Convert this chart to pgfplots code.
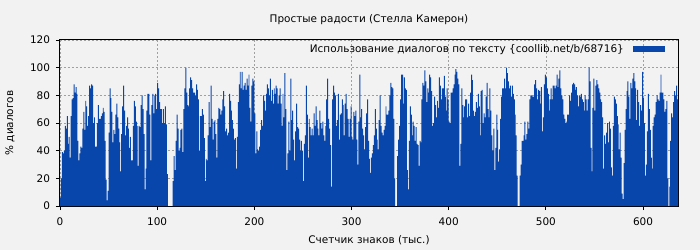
\documentclass[border=0pt]{standalone}
\usepackage{pgfplots}
\usepackage{pgfplotstable}
\pgfplotsset{compat=1.18}
\usepackage{fontspec}
\setmainfont{DejaVu Sans}
\definecolor{barblue}{RGB}{8,70,172}
\definecolor{bg}{RGB}{242,242,242}
\definecolor{gridc}{RGB}{160,160,160}
\pgfplotstableread[row sep=\\, header=false]{
6\\20\\39\\38\\40\\58\\56\\65\\45\\50\\35\\65\\77\\78\\88\\82\\86\\81\\47\\33\\38\\43\\42\\56\\68\\55\\76\\72\\58\\65\\87\\85\\88\\87\\60\\64\\43\\43\\60\\73\\63\\63\\65\\67\\71\\68\\47\\19\\4\\11\\53\\85\\78\\68\\46\\55\\52\\66\\74\\64\\56\\46\\25\\52\\72\\87\\69\\51\\58\\64\\56\\42\\50\\33\\33\\58\\76\\72\\61\\58\\29\\58\\57\\73\\80\\70\\52\\12\\27\\69\\81\\81\\66\\33\\73\\81\\67\\80\\81\\70\\89\\85\\75\\70\\70\\60\\
70\\60\\72\\59\\23\\0\\0\\0\\0\\0\\
18\\36\\26\\47\\66\\56\\40\\42\\55\\56\\39\\70\\85\\100\\82\\73\\72\\85\\93\\91\\85\\82\\82\\80\\88\\84\\77\\40\\65\\65\\70\\66\\49\\18\\34\\33\\51\\75\\57\\87\\63\\48\\61\\62\\52\\35\\63\\71\\70\\66\\69\\77\\83\\72\\54\\56\\51\\53\\81\\76\\69\\62\\56\\48\\49\\27\\50\\75\\88\\97\\85\\97\\84\\87\\89\\84\\92\\87\\95\\71\\61\\87\\92\\90\\67\\38\\54\\41\\40\\43\\55\\62\\58\\80\\76\\69\\81\\88\\85\\80\\
92\\76\\84\\74\\85\\81\\87\\85\\74\\80\\85\\74\\58\\81\\64\\96\\70\\26\\38\\61\\40\\92\\62\\69\\48\\33\\54\\74\\57\\56\\48\\40\\47\\40\\18\\45\\51\\87\\66\\35\\63\\57\\51\\56\\51\\67\\58\\72\\62\\56\\51\\69\\60\\56\\61\\51\\47\\58\\77\\92\\63\\56\\44\\14\\77\\87\\82\\80\\58\\62\\81\\48\\66\\67\\77\\73\\51\\74\\81\\70\\63\\50\\63\\72\\50\\48\\68\\65\\69\\48\\30\\61\\95\\64\\70\\56\\51\\41\\57\\67\\77\\47\\34\\24\\35\\38\\44\\51\\
70\\56\\48\\41\\62\\80\\58\\53\\51\\55\\58\\72\\66\\66\\69\\80\\89\\86\\85\\63\\20\\0\\0\\36\\48\\58\\77\\95\\95\\74\\93\\85\\84\\26\\12\\47\\72\\66\\51\\61\\58\\47\\57\\45\\44\\29\\47\\46\\77\\89\\87\\98\\90\\75\\85\\82\\95\\93\\83\\58\\60\\79\\73\\64\\76\\71\\93\\87\\77\\85\\85\\94\\79\\69\\85\\77\\61\\60\\82\\82\\85\\88\\95\\99\\97\\92\\88\\29\\45\\85\\73\\64\\72\\77\\77\\64\\74\\65\\82\\95\\91\\69\\65\\68\\75\\71\\81\\72\\
51\\83\\84\\60\\67\\64\\79\\89\\70\\64\\85\\69\\51\\40\\56\\26\\42\\66\\55\\32\\41\\63\\79\\85\\85\\92\\85\\100\\96\\90\\85\\87\\79\\87\\81\\77\\66\\51\\22\\0\\0\\22\\30\\47\\47\\51\\61\\48\\52\\61\\56\\77\\80\\80\\79\\79\\88\\91\\85\\77\\84\\83\\74\\86\\54\\64\\88\\95\\93\\85\\81\\69\\77\\85\\77\\87\\87\\85\\87\\95\\86\\92\\98\\85\\80\\77\\66\\63\\60\\61\\66\\66\\80\\76\\82\\88\\89\\88\\84\\86\\80\\72\\80\\79\\81\\77\\75\\69\\80\\
77\\69\\77\\100\\90\\42\\25\\71\\92\\69\\87\\91\\88\\85\\82\\77\\75\\64\\27\\51\\45\\53\\60\\46\\61\\56\\28\\22\\58\\79\\77\\74\\65\\59\\41\\53\\35\\9\\5\\31\\55\\70\\83\\90\\79\\63\\89\\85\\92\\96\\90\\85\\62\\84\\75\\58\\73\\69\\97\\78\\60\\22\\30\\54\\81\\70\\55\\35\\27\\58\\64\\66\\75\\80\\77\\76\\82\\95\\82\\82\\77\\68\\70\\76\\20\\0\\14\\47\\67\\64\\75\\83\\80\\87\\77\\
}\data
\begin{document}
\begin{tikzpicture}
\path[use as bounding box, fill=bg] (-60bp,-44bp) rectangle (640bp,206bp);
\begin{axis}[
  scale only axis, width=618bp, height=166bp,
  xmin=0, xmax=636, ymin=0, ymax=120,
  axis background/.style={fill=bg},
  axis line style={black, line width=1bp},
  tick align=outside, tick pos=left,
  major tick length=4bp,
  tick style={black, line width=0.8bp},
  xtick={0,100,...,600}, ytick={0,20,...,120},
  grid=major,
  major grid style={gridc, line width=0.7bp, dash pattern=on 2bp off 2bp},
  /pgf/number format/assume math mode=true,
  tick label style={font=\fontsize{10.5}{12}\selectfont},
  yticklabel style={xshift=-2.5bp},
  xticklabel style={yshift=-4bp},
  every axis title shift=0pt,
  title={Простые радости (Стелла Камерон)},
  title style={font=\fontsize{10.5}{12}\selectfont, at={(axis description cs:0.5,1.12)}, anchor=center},
  xlabel={Счетчик знаков (тыс.)},
  xlabel style={font=\fontsize{10.5}{12}\selectfont, at={(axis description cs:0.5,-0.2048)}, anchor=center},
  ylabel={\% диалогов},
  ylabel style={font=\fontsize{10.5}{12}\selectfont, at={(axis description cs:-0.081,0.5)}, anchor=center},
  legend style={at={(axis description cs:1,1)}, anchor=north east, xshift=-13bp, yshift=-2bp,
    draw=none, fill=none, font=\fontsize{10.5}{12}\selectfont, inner sep=0pt,
    legend plot pos=right},
  legend image code/.code={\path (0bp,0bp); \fill[barblue] (7bp,-2.75bp) rectangle (39bp,2.75bp);},
]
\addplot[ybar, bar width=1, fill=barblue, draw=none] table[x expr=\coordindex+0.5, y index=0] {\data};
\addlegendentry{Использование диалогов по тексту \{coollib.net/b/68716\}}
\end{axis}
\end{tikzpicture}
\end{document}
